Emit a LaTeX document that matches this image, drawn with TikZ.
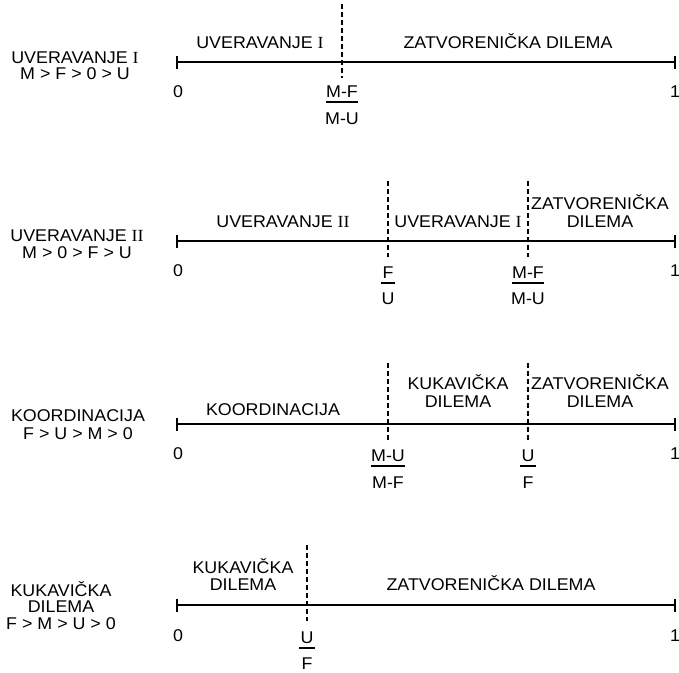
\documentclass[tikz,border=0pt]{standalone}
\usepackage{fontspec}
\setmainfont{Liberation Sans}[FakeStretch=1.05]
\newfontfamily\romfont{Liberation Serif}[FakeStretch=1.05]
\newcommand\RomI{{\romfont I}}
\newcommand\RomII{{\romfont II}}
\begin{document}
\begin{tikzpicture}[x=1pt,y=-1pt,
  lab/.style={font=\fontsize{17}{19}\selectfont, inner sep=0pt, anchor=base},
  axis/.style={line width=2.3pt},
  tickmark/.style={line width=2.3pt},
  divider/.style={line width=1.6pt, dash pattern=on 4.5pt off 3.5pt},
  fbar/.style={line width=1.9pt}]
\useasboundingbox (0,0) rectangle (679,672);

% ---------------- Row 1 ----------------
\coordinate (a1) at (177,62); \coordinate (b1) at (675,62);
\draw[axis] (a1) -- (b1);
\draw[tickmark] ([yshift=6.5pt]a1) -- ([yshift=-6.5pt]a1);
\draw[tickmark] ([yshift=6.5pt]b1) -- ([yshift=-6.5pt]b1);
\coordinate (d1t) at (342,4); \coordinate (d1b) at (342,78);
\draw[divider] (d1t) -- (d1b);
\node[lab] (l1a) at (75,63) {UVERAVANJE \RomI};
\node[lab] (l1b) at (75,79.5) {M > F > 0 > U};
\node[lab] (s1a) at (260,48) {UVERAVANJE \RomI};
\node[lab] (s1b) at (508,48) {ZATVORENIČKA DILEMA};
\node[lab] (z1) at (178,97) {0};
\node[lab] (o1) at (675,97) {1};
\node[lab] (n1) at (342,97.5) {M-F};
\node[lab] (m1) at (342,124.5) {M-U};
\draw[fbar] ([yshift=-4.5pt]n1.south west) -- ([yshift=-4.5pt]n1.south east);

% ---------------- Row 2 ----------------
\coordinate (a2) at (177,241); \coordinate (b2) at (675,241);
\draw[axis] (a2) -- (b2);
\draw[tickmark] ([yshift=6.5pt]a2) -- ([yshift=-6.5pt]a2);
\draw[tickmark] ([yshift=6.5pt]b2) -- ([yshift=-6.5pt]b2);
\coordinate (d2t) at (388,181); \coordinate (d2b) at (388,257);
\coordinate (e2t) at (528,181); \coordinate (e2b) at (528,257);
\draw[divider] (d2t) -- (d2b);
\draw[divider] (e2t) -- (e2b);
\node[lab] (l2a) at (77,241.5) {UVERAVANJE \RomII};
\node[lab] (l2b) at (77,258.5) {M > 0 > F > U};
\node[lab] (s2a) at (283,227) {UVERAVANJE \RomII};
\node[lab] (s2b) at (458,227) {UVERAVANJE \RomI};
\node[lab] (s2c) at (600,209) {ZATVORENIČKA};
\node[lab] (s2d) at (600,227) {DILEMA};
\node[lab] (z2) at (178,276) {0};
\node[lab] (o2) at (675,276) {1};
\node[lab] (n2) at (388,278) {F};
\node[lab] (m2) at (388,304) {U};
\draw[fbar] ([yshift=-4.5pt,xshift=-1pt]n2.south west) -- ([yshift=-4.5pt,xshift=1pt]n2.south east);
\node[lab] (n3) at (528,278) {M-F};
\node[lab] (m3) at (528,304) {M-U};
\draw[fbar] ([yshift=-4.5pt]n3.south west) -- ([yshift=-4.5pt]n3.south east);

% ---------------- Row 3 ----------------
\coordinate (a3) at (177,424); \coordinate (b3) at (675,424);
\draw[axis] (a3) -- (b3);
\draw[tickmark] ([yshift=6.5pt]a3) -- ([yshift=-6.5pt]a3);
\draw[tickmark] ([yshift=6.5pt]b3) -- ([yshift=-6.5pt]b3);
\coordinate (d3t) at (388,363); \coordinate (d3b) at (388,440);
\coordinate (e3t) at (528,363); \coordinate (e3b) at (528,440);
\draw[divider] (d3t) -- (d3b);
\draw[divider] (e3t) -- (e3b);
\node[lab] (l3a) at (78,421.5) {KOORDINACIJA};
\node[lab] (l3b) at (78,439.5) {F > U > M > 0};
\node[lab] (s3a) at (273,415) {KOORDINACIJA};
\node[lab] (s3b) at (458,389) {KUKAVIČKA};
\node[lab] (s3c) at (458,407) {DILEMA};
\node[lab] (s3d) at (600,389) {ZATVORENIČKA};
\node[lab] (s3e) at (600,407) {DILEMA};
\node[lab] (z3) at (178,459) {0};
\node[lab] (o3) at (675,459) {1};
\node[lab] (n4) at (388,461) {M-U};
\node[lab] (m4) at (388,488) {M-F};
\draw[fbar] ([yshift=-4.5pt]n4.south west) -- ([yshift=-4.5pt]n4.south east);
\node[lab] (n5) at (528,461) {U};
\node[lab] (m5) at (528,488) {F};
\draw[fbar] ([yshift=-4.5pt,xshift=-1pt]n5.south west) -- ([yshift=-4.5pt,xshift=1pt]n5.south east);

% ---------------- Row 4 ----------------
\coordinate (a4) at (177,605); \coordinate (b4) at (675,605);
\draw[axis] (a4) -- (b4);
\draw[tickmark] ([yshift=6.5pt]a4) -- ([yshift=-6.5pt]a4);
\draw[tickmark] ([yshift=6.5pt]b4) -- ([yshift=-6.5pt]b4);
\coordinate (d4t) at (307,545); \coordinate (d4b) at (307,621);
\draw[divider] (d4t) -- (d4b);
\node[lab] (l4a) at (61,596) {KUKAVIČKA};
\node[lab] (l4b) at (61,612.5) {DILEMA};
\node[lab] (l4c) at (61,629) {F > M > U > 0};
\node[lab] (s4a) at (243,573) {KUKAVIČKA};
\node[lab] (s4b) at (243,590) {DILEMA};
\node[lab] (s4c) at (491,590) {ZATVORENIČKA DILEMA};
\node[lab] (z4) at (178,641) {0};
\node[lab] (o4) at (675,641) {1};
\node[lab] (n6) at (307,643) {U};
\node[lab] (m6) at (307,669) {F};
\draw[fbar] ([yshift=-4.5pt,xshift=-1pt]n6.south west) -- ([yshift=-4.5pt,xshift=1pt]n6.south east);
\end{tikzpicture}
\end{document}
